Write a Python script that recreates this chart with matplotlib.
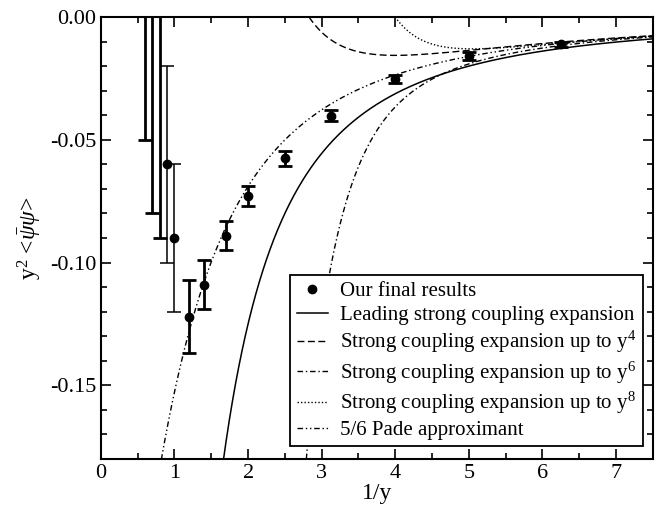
import numpy as np
import matplotlib
matplotlib.use("Agg")
import matplotlib.pyplot as plt
from matplotlib.lines import Line2D
from matplotlib.ticker import MultipleLocator, FormatStrFormatter

plt.rcParams['font.family'] = 'Liberation Serif'
plt.rcParams['mathtext.fontset'] = 'custom'
plt.rcParams['mathtext.rm'] = 'Liberation Serif'
plt.rcParams['mathtext.it'] = 'Liberation Serif:italic'
plt.rcParams['axes.unicode_minus'] = False

# simulation results against 1/y (first three sit above the window)
inv_y = [0.6, 0.7, 0.8, 0.9, 1.0, 1.2, 1.4, 1.7, 2.0, 2.5, 3.125, 4.0, 5.0, 6.25]
cond = [0.03, 0.02, 0.01, -0.060, -0.090, -0.122, -0.109, -0.089, -0.073,
        -0.0575, -0.0402, -0.0252, -0.0159, -0.0111]
cond_err = [0.08, 0.10, 0.10, 0.040, 0.030, 0.015, 0.010, 0.006, 0.004,
            0.0031, 0.0022, 0.0017, 0.0017, 0.0010]
thick_bar = [True, True, True, False, False, True, True, True, True,
             True, True, True, True, True]

# strong coupling series in y: coefficients of y^2, y^4, y^6, y^8
sc_coef = [-0.5, 4.0, -86.0, 2400.0]
# 5/6 Pade approximant written in x = 1/y
pade_num = [-0.5]
pade_den = [1.0, 0.975, 1.3]

x = np.linspace(0.3, 7.5, 1500)
yy = 1.0 / x


def series(order):
    out = np.zeros_like(x)
    for k in range(order):
        out += sc_coef[k] * yy ** (2 * (k + 1))
    return out


fig = plt.figure(figsize=(6.64, 5.08), dpi=100)
ax = fig.add_axes([0.152, 0.0965, 0.831, 0.870])

ax.plot(x, series(1), color='k', lw=1.1)
ax.plot(x, series(2), color='k', lw=1.0, ls=(0, (5, 2.5)))
ax.plot(x, series(3), color='k', lw=1.0, ls=(0, (4, 2, 1, 2)))
ax.plot(x, series(4), color='k', lw=1.0, ls=(0, (1, 1.5)))
ax.plot(x, np.polyval(pade_num, x) / np.polyval(pade_den, x), color='k', lw=1.0,
        ls=(0, (4, 2, 1, 2, 1, 2)))

for xi, yi, ei, tb in zip(inv_y, cond, cond_err, thick_bar):
    w = 2.0 if tb else 1.1
    ax.errorbar(xi, yi, yerr=ei, fmt='o', color='k', ms=6, ecolor='k',
                elinewidth=w, capsize=5, capthick=w)

ax.set_xlim(0, 7.5)
ax.set_ylim(-0.18, 0.0)
ax.xaxis.set_major_locator(MultipleLocator(1))
ax.xaxis.set_minor_locator(MultipleLocator(0.5))
ax.yaxis.set_major_locator(MultipleLocator(0.05))
ax.yaxis.set_minor_locator(MultipleLocator(0.01))
ax.yaxis.set_major_formatter(FormatStrFormatter('%.2f'))
ax.tick_params(which='both', direction='in', top=True, right=True, width=1.2,
               labelsize=16)
ax.tick_params(which='major', length=7)
ax.tick_params(which='minor', length=4)
for s in ax.spines.values():
    s.set_linewidth(1.5)

ax.set_xlabel('1/y', fontsize=17, labelpad=0)
ax.set_ylabel(r'y$^2$ <$\bar{\psi}\psi$>', fontsize=17, labelpad=4)

handles = [
    Line2D([], [], color='k', marker='o', ls='none', ms=6),
    Line2D([], [], color='k', lw=1.1),
    Line2D([], [], color='k', lw=1.0, ls=(0, (5, 2.5))),
    Line2D([], [], color='k', lw=1.0, ls=(0, (4, 2, 1, 2))),
    Line2D([], [], color='k', lw=1.0, ls=(0, (1, 1.5))),
    Line2D([], [], color='k', lw=1.0, ls=(0, (4, 2, 1, 2, 1, 2))),
]
labels = [
    'Our final results',
    'Leading strong coupling expansion',
    r'Strong coupling expansion up to y$^4$',
    r'Strong coupling expansion up to y$^6$',
    r'Strong coupling expansion up to y$^8$',
    '5/6 Pade approximant',
]
leg = ax.legend(handles, labels, loc='lower right', bbox_to_anchor=(0.982, 0.029),
                borderaxespad=0, fontsize=15, frameon=True, fancybox=False,
                framealpha=1, edgecolor='k', handlelength=1.5, handletextpad=0.6,
                labelspacing=0.2, borderpad=0.3)
leg.get_frame().set_linewidth(1.3)

fig.savefig('out.png', dpi=100)
